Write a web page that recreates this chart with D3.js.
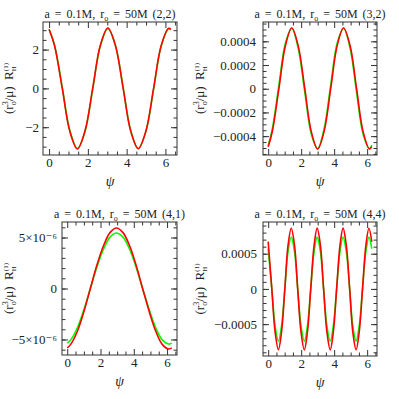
<!DOCTYPE html>
<html><head><meta charset="utf-8">
<script src="https://cdn.jsdelivr.net/npm/d3@7"></script>
<style>body{margin:0;background:#fff}svg{display:block}</style>
</head><body>
<script>
// ---- data ----
const psi22 = [0, 0.28, 0.68, 1.07, 1.46, 1.85, 2.25, 2.64, 3.03, 3.42, 3.82, 4.21, 4.60, 4.99, 5.39, 5.78, 6.17, 6.28];
const red22 = [3.05, 2.21, 0.00, -2.21, -3.12, -2.20, 0.01, 2.21, 3.11, 2.21, 0.00, -2.20, -3.11, -2.21, 0.00, 2.20, 3.10, 3.04];
const green22 = [3.04, 2.23, 0.05, -2.17, -3.09, -2.23, -0.05, 2.17, 3.08, 2.23, 0.05, -2.17, -3.09, -2.23, -0.05, 2.17, 3.07, 3.02];

const psi32 = [0, 0.25, 0.65, 1.04, 1.43, 1.82, 2.22, 2.61, 3.00, 3.39, 3.79, 4.18, 4.57, 4.97, 5.36, 5.75, 6.14, 6.28];
const red32 = [-4.90e-4, -3.61e-4, 0, 3.61e-4, 5.12e-4, 3.62e-4, 0.01e-4, -3.60e-4, -5.08e-4, -3.60e-4, 0, 3.62e-4, 5.12e-4, 3.61e-4, 0, -3.60e-4, -5.08e-4, -4.88e-4];
const green32 = [-4.80e-4, -3.39e-4, 0.30e-4, 3.82e-4, 5.10e-4, 3.40e-4, -0.29e-4, -3.81e-4, -5.06e-4, -3.38e-4, 0.30e-4, 3.83e-4, 5.10e-4, 3.39e-4, -0.30e-4, -3.81e-4, -5.06e-4, -4.74e-4];

const psi41 = [0, 0.21, 0.61, 1.00, 1.39, 1.78, 2.18, 2.57, 2.96, 3.35, 3.75, 4.14, 4.53, 4.93, 5.32, 5.71, 6.10, 6.28];
const red41 = [-5.83e-6, -5.48e-6, -4.19e-6, -2.27e-6, 0, 2.27e-6, 4.19e-6, 5.48e-6, 5.93e-6, 5.48e-6, 4.19e-6, 2.27e-6, 0, -2.27e-6, -4.19e-6, -5.48e-6, -5.93e-6, -5.83e-6];
const green41 = [-5.36e-6, -5.04e-6, -3.85e-6, -2.09e-6, 0, 2.09e-6, 3.85e-6, 5.04e-6, 5.45e-6, 5.04e-6, 3.85e-6, 2.09e-6, 0, -2.09e-6, -3.85e-6, -5.04e-6, -5.45e-6, -5.36e-6];

const psi44 = [0, 0.22, 0.42, 0.62, 0.81, 1.01, 1.20, 1.40, 1.60, 1.79, 1.99, 2.19, 2.38, 2.58, 2.78, 2.97, 3.17, 3.36, 3.56, 3.76, 3.95, 4.15, 4.35, 4.54, 4.74, 4.94, 5.13, 5.33, 5.52, 5.72, 5.92, 6.11, 6.28];
const red44 = [6.72e-4, 0, -6.11e-4, -8.64e-4, -6.11e-4, 0, 6.11e-4, 8.62e-4, 6.11e-4, 0, -6.11e-4, -8.66e-4, -6.11e-4, 0, 6.11e-4, 8.63e-4, 6.11e-4, 0, -6.11e-4, -8.65e-4, -6.11e-4, 0, 6.11e-4, 8.64e-4, 6.11e-4, 0, -6.11e-4, -8.64e-4, -6.11e-4, 0, 6.11e-4, 8.62e-4, 6.70e-4];
const green44 = [5.75e-4, 0, -5.23e-4, -7.42e-4, -5.23e-4, 0, 5.23e-4, 7.38e-4, 5.23e-4, 0, -5.23e-4, -7.43e-4, -5.23e-4, 0, 5.23e-4, 7.36e-4, 5.23e-4, 0, -5.23e-4, -7.42e-4, -5.23e-4, 0, 5.23e-4, 7.38e-4, 5.23e-4, 0, -5.23e-4, -7.41e-4, -5.23e-4, 0, 5.23e-4, 7.37e-4, 5.72e-4];

const modes = ["(2,2)", "(3,2)", "(4,1)", "(4,4)"];
const xTicks = [0, 2, 4, 6];
const xMinorTicks = [0.5, 1, 1.5, 2.5, 3, 3.5, 4.5, 5, 5.5, 6.5];
const yTicks22 = [-2, 0, 2];
const yTicks32 = [-0.0004, -0.0002, 0, 0.0002, 0.0004];
const yTicks41 = [-5e-6, 0, 5e-6];
const yTickLabels41 = ["\u22125\u00d710\u207b\u2076", "0", "5\u00d710\u207b\u2076"];
const yTicks44 = [-0.0005, 0, 0.0005];

// ---- layout ----
const W = 399, H = 399;
const F = "'Liberation Serif', 'DejaVu Serif', serif";
const svg = d3.select("body").append("svg").attr("width", W).attr("height", H);

const panels = [
  {mode: modes[0], psi: psi22, red: red22, green: green22, box: [43, 177, 22, 155], ylx: 13, tp: 4,
   yt: yTicks22, ym: 0.5, fmt: d => d3.format("d")(d)},
  {mode: modes[1], psi: psi32, red: red32, green: green32, box: [263, 377, 22, 155], ylx: 204, tp: 7,
   yt: yTicks32, ym: 0.00005, fmt: d => d === 0 ? "0" : d3.format(".4f")(d)},
  {mode: modes[2], psi: psi41, red: red41, green: green41, box: [62, 177, 222, 355], ylx: 13, tp: 5,
   yt: yTicks41, ym: 1e-6, fmt: (d, i) => yTickLabels41[i]},
  {mode: modes[3], psi: psi44, red: red44, green: green44, box: [263, 377, 222, 356], ylx: 204, tp: 6,
   yt: yTicks44, ym: 0.0001, fmt: d => d === 0 ? "0" : d3.format(".4f")(d)}
];

const axisColor = "#333";

panels.forEach(p => {
  const [L, R, T, B] = p.box;
  const xspan = 2 * Math.PI;
  const x = d3.scaleLinear([-0.05 * xspan, 1.05 * xspan], [L, R]);
  const all = p.red.concat(p.green);
  const lo = d3.min(all), hi = d3.max(all), pad = 0.05 * (hi - lo);
  const y = d3.scaleLinear([lo - pad, hi + pad], [B, T]);
  const g = svg.append("g");

  const yMin = y.domain()[0], yMax = y.domain()[1];
  const yMinor = [];
  for (let v = Math.ceil(yMin / p.ym) * p.ym; v <= yMax; v += p.ym) yMinor.push(+v.toPrecision(6));

  function style(sel) {
    sel.select(".domain").remove();
    sel.selectAll(".tick line").attr("stroke", axisColor).attr("stroke-width", 1);
    sel.selectAll(".tick text").attr("fill", "#222").attr("font-family", F).attr("font-size", 13);
  }
  // bottom
  g.append("g").attr("transform", `translate(0,${B})`)
    .call(d3.axisBottom(x).tickValues(xTicks).tickSize(-6).tickPadding(3).tickFormat(d3.format("d"))).call(style);
  g.append("g").attr("transform", `translate(0,${B})`)
    .call(d3.axisBottom(x).tickValues(xMinorTicks).tickSize(-3.5).tickFormat("")).call(style);
  // top
  g.append("g").attr("transform", `translate(0,${T})`)
    .call(d3.axisTop(x).tickValues(xTicks).tickSize(-6).tickFormat("")).call(style);
  g.append("g").attr("transform", `translate(0,${T})`)
    .call(d3.axisTop(x).tickValues(xMinorTicks).tickSize(-3.5).tickFormat("")).call(style);
  // left
  g.append("g").attr("transform", `translate(${L},0)`)
    .call(d3.axisLeft(y).tickValues(p.yt).tickSize(-6).tickPadding(p.tp).tickFormat(p.fmt)).call(style);
  g.append("g").attr("transform", `translate(${L},0)`)
    .call(d3.axisLeft(y).tickValues(yMinor).tickSize(-3.5).tickFormat("")).call(style);
  // right
  g.append("g").attr("transform", `translate(${R},0)`)
    .call(d3.axisRight(y).tickValues(p.yt).tickSize(-6).tickFormat("")).call(style);
  g.append("g").attr("transform", `translate(${R},0)`)
    .call(d3.axisRight(y).tickValues(yMinor).tickSize(-3.5).tickFormat("")).call(style);

  // frame
  g.append("rect").attr("x", L).attr("y", T).attr("width", R - L).attr("height", B - T)
    .attr("fill", "none").attr("stroke", axisColor).attr("stroke-width", 1);

  // curves
  const idx = d3.range(p.psi.length);
  const line = arr => d3.line().x(i => x(p.psi[i])).y(i => y(arr[i])).curve(d3.curveCatmullRom.alpha(0.5))(idx);
  g.append("path").attr("d", line(p.green)).attr("fill", "none").attr("stroke", "#00ff00").attr("stroke-width", 1.6);
  g.append("path").attr("d", line(p.red)).attr("fill", "none").attr("stroke", "#ff0000").attr("stroke-width", 1.6);

  // title
  const t = g.append("text").attr("x", (L + R) / 2).attr("y", T - 4).attr("text-anchor", "middle")
    .attr("font-family", F).attr("font-size", 12).attr("fill", "#222").attr("word-spacing", 2);
  t.append("tspan").text("a = 0.1M, r");
  t.append("tspan").attr("font-size", 8).attr("dy", 3).text("o");
  t.append("tspan").attr("dy", -3).text(" = 50M " + p.mode);

  // x label
  g.append("text").attr("x", (L + R) / 2).attr("y", B + 31).attr("text-anchor", "middle")
    .attr("font-family", F).attr("font-style", "italic").attr("font-size", 14).attr("fill", "#222").text("\u03c8");

  // y label
  const yl = g.append("text").attr("transform", `translate(${p.ylx},${(T + B) / 2}) rotate(-90)`)
    .attr("text-anchor", "middle").attr("font-family", F).attr("font-size", 13).attr("fill", "#222");
  yl.append("tspan").text("(r");
  yl.append("tspan").attr("font-size", 8).attr("dy", 3).text("o");
  yl.append("tspan").attr("font-size", 8).attr("dx", -4).attr("dy", -8).text("3");
  yl.append("tspan").attr("dy", 5).text("/\u03bc)\u00a0\u00a0R");
  yl.append("tspan").attr("font-size", 7).attr("dy", 3).text("H");
  yl.append("tspan").attr("font-size", 7).attr("dx", -5).attr("dy", -8).text("(1)");
});
</script>
</body></html>
